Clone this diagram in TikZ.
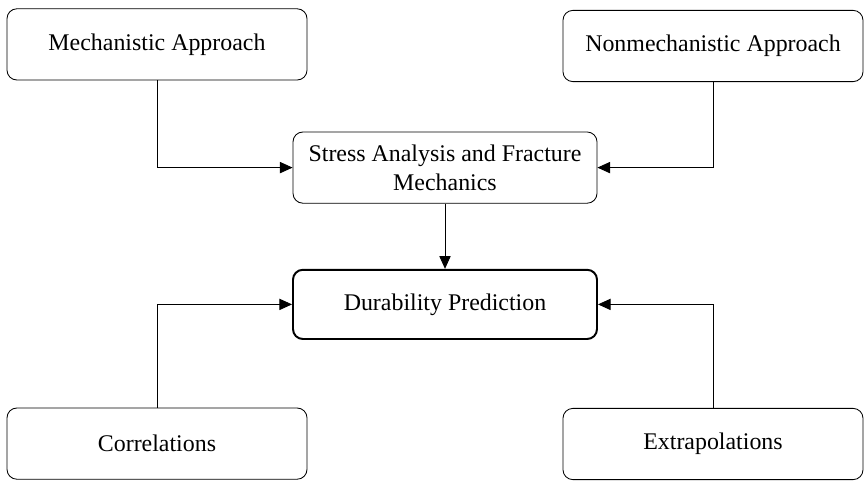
\documentclass[tikz,border=0pt]{standalone}
\usepackage{fontspec}
\setmainfont{Liberation Serif}
\usetikzlibrary{arrows.meta, positioning}

\begin{document}
\begin{tikzpicture}[
    box/.style={draw, rounded corners=7pt, line width=0.6pt, minimum width=7.5cm,
                minimum height=1.78cm, align=center, font=\fontsize{17}{20.5}\selectfont},
    arr/.style={-{Triangle[length=9pt,width=8pt]}, line width=0.6pt}
  ]
  \useasboundingbox (0,0) rectangle (21.6,12);

  % top row
  \node[box] (mech) at (3.925,10.89) {Mechanistic Approach};
  \node[box] (nonmech) at (17.825,10.85) {Nonmechanistic Approach};

  % middle
  \node[box, minimum width=7.6cm] (stress) at (11.125,7.81) {Stress Analysis and Fracture\\Mechanics};
  \node[box, minimum width=7.6cm, minimum height=1.73cm, line width=1.4pt] (durab) at (11.125,4.39) {Durability Prediction};

  % bottom row
  \node[box] (corr) at (3.925,0.91) {Correlations};
  \node[box] (extra) at (17.825,0.90) {Extrapolations};

  % connectors
  \draw[arr] (mech.south) |- (stress.west);
  \draw[arr] (nonmech.south) |- (stress.east);
  \draw[arr] (stress.south) -- (durab.north);
  \draw[arr] (corr.north) |- (durab.west);
  \draw[arr] (extra.north) |- (durab.east);
\end{tikzpicture}
\end{document}
